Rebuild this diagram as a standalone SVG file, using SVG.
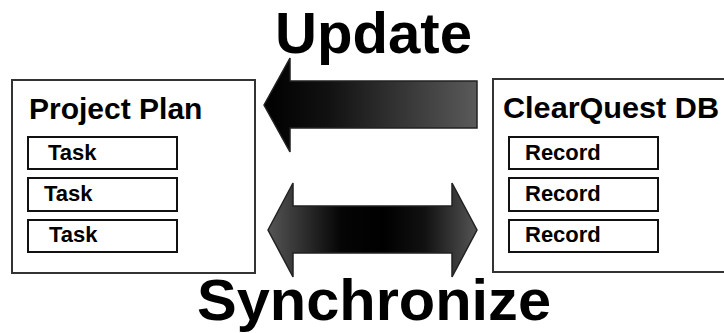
<svg xmlns="http://www.w3.org/2000/svg" width="724" height="333" viewBox="0 0 724 333">
<defs>
<linearGradient id="gUpd" x1="0" y1="0" x2="1" y2="0">
<stop offset="0" stop-color="#000"/>
<stop offset="0.3" stop-color="#111"/>
<stop offset="1" stop-color="#5a5a5a"/>
</linearGradient>
<linearGradient id="gSync" x1="0" y1="0" x2="1" y2="0">
<stop offset="0" stop-color="#555"/>
<stop offset="0.35" stop-color="#050505"/>
<stop offset="0.55" stop-color="#000"/>
<stop offset="0.75" stop-color="#111"/>
<stop offset="1" stop-color="#555"/>
</linearGradient>
</defs>
<style>
.outer{fill:#fff;stroke:#333;stroke-width:2}
.item{fill:#fff;stroke:#111;stroke-width:2}
.title{font-family:"Liberation Sans",Arial,sans-serif;font-weight:bold;font-size:30px;fill:#000}
.lbl{font-family:"Liberation Sans",Arial,sans-serif;font-weight:bold;font-size:22px;fill:#000}
.big{font-family:"Liberation Sans",Arial,sans-serif;font-weight:bold;font-size:57px;fill:#000}
.arrow{stroke:#222;stroke-width:1.5}
</style>
<rect width="724" height="333" fill="#fff"/>
<g id="project-plan">
<rect class="outer" x="12" y="80" width="243" height="193"/>
<text class="title" x="29" y="119">Project Plan</text>
<g id="task1"><rect class="item" x="28" y="137" width="149" height="32"/><text class="lbl" x="48" y="160">Task</text></g>
<g id="task2"><rect class="item" x="28" y="178" width="149" height="33"/><text class="lbl" x="44" y="201">Task</text></g>
<g id="task3"><rect class="item" x="28" y="220" width="149" height="32"/><text class="lbl" x="49" y="242">Task</text></g>
</g>
<g id="clearquest-db">
<rect class="outer" x="493" y="79" width="240" height="193"/>
<text class="title" x="503" y="118" textLength="216" lengthAdjust="spacingAndGlyphs">ClearQuest DB</text>
<g id="record1"><rect class="item" x="509" y="137" width="149" height="32"/><text class="lbl" x="525" y="160">Record</text></g>
<g id="record2"><rect class="item" x="509" y="178" width="149" height="33"/><text class="lbl" x="525" y="201">Record</text></g>
<g id="record3"><rect class="item" x="509" y="220" width="149" height="32"/><text class="lbl" x="525" y="242">Record</text></g>
</g>
<g id="connectors">
<g id="update">
<path class="arrow" fill="url(#gUpd)" d="M264,105 L290,58 L290,81 L477,81 L477,128 L290,128 L290,152 Z"/>
<text class="big" x="275" y="53" textLength="197" lengthAdjust="spacingAndGlyphs">Update</text>
</g>
<g id="synchronize">
<path class="arrow" fill="url(#gSync)" d="M268,230 L293,183 L293,206 L452,206 L452,183 L477,230 L452,277 L452,253 L293,253 L293,277 Z"/>
<text class="big" x="197" y="320" textLength="354" lengthAdjust="spacingAndGlyphs">Synchronize</text>
</g>
</g>
</svg>
